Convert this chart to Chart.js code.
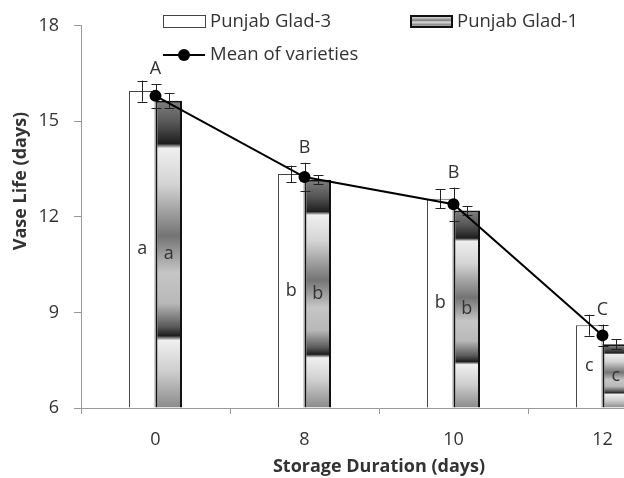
<!DOCTYPE html>
<html>
<head>
<meta charset="utf-8">
<script src="https://cdn.jsdelivr.net/npm/chart.js@4"></script>
<style>
html,body{margin:0;padding:0;background:#fff;overflow:hidden;}
#wrap{position:relative;width:700px;height:478px;}
</style>
</head>
<body>
<div id="wrap"><canvas id="c"></canvas></div>
<script>
// ---- data ----
const categories = ['0', '8', '10', '12'];
const glad3 = [15.95, 13.35, 12.57, 8.6];
const glad1 = [15.65, 13.17, 12.2, 8.0];
const meanVarieties = [15.8, 13.25, 12.4, 8.28];
const glad3Err = [0.33, 0.26, 0.30, 0.33];
const glad1Err = [0.23, 0.14, 0.14, 0.16];
const meanErr = [0.37, 0.45, 0.52, 0.34];
const meanLetters = ['A', 'B', 'B', 'C'];
const glad3Letters = ['a', 'b', 'b', 'c'];
const glad1Letters = ['a', 'b', 'b', 'c'];
const yTicks = [6, 9, 12, 15, 18];
const seriesNames = ['Punjab Glad-3', 'Punjab Glad-1', 'Mean of varieties'];
const axisTitles = {x: 'Storage Duration (days)', y: 'Vase Life (days)'};

// ---- styles ----
const FONT = '"Open Sans", "Liberation Sans", sans-serif';
const TXT = '#333';
const gradStops = [[0,'#808080'],[0.07,'#585858'],[0.14,'#1e1e1e'],[0.155,'#efefef'],[0.27,'#d4d4d4'],[0.44,'#747474'],[0.56,'#c6c6c6'],[0.66,'#b8b8b8'],[0.735,'#5a5a5a'],[0.765,'#1e1e1e'],[0.78,'#f0f0f0'],[0.88,'#cecece'],[1,'#8a8a8a']];

function barGradient(ctx) {
  if (ctx.type !== 'data') return '#999';
  const chart = ctx.chart;
  const ys = chart.scales.y;
  if (!ys || !chart.chartArea) return '#999';
  const top = ys.getPixelForValue(ctx.raw);
  const base = ys.getPixelForValue(yTicks[0]);
  const g = chart.ctx.createLinearGradient(0, top, 0, base);
  gradStops.forEach(s => g.addColorStop(s[0], s[1]));
  return g;
}

function drawErr(chart, di, errs) {
  const c = chart.ctx;
  const ys = chart.scales.y;
  const meta = chart.getDatasetMeta(di);
  const vals = chart.data.datasets[di].data;
  c.save();
  c.strokeStyle = '#222';
  c.lineWidth = 1;
  meta.data.forEach((el, i) => {
    const x = Math.round(el.x) + 0.5;
    const y1 = ys.getPixelForValue(vals[i] + errs[i]);
    const y2 = ys.getPixelForValue(vals[i] - errs[i]);
    c.beginPath();
    c.moveTo(x, y1); c.lineTo(x, y2);
    c.moveTo(x - 5, Math.round(y1) + 0.5); c.lineTo(x + 5, Math.round(y1) + 0.5);
    c.moveTo(x - 5, Math.round(y2) + 0.5); c.lineTo(x + 5, Math.round(y2) + 0.5);
    c.stroke();
  });
  c.restore();
}

const errPlugin = {
  id: 'errbars',
  beforeDatasetDraw(chart, args) {
    if (args.index === 2) drawErr(chart, 2, meanErr);
  },
  afterDatasetDraw(chart, args) {
    if (args.index === 0) drawErr(chart, 0, glad3Err);
    if (args.index === 1) drawErr(chart, 1, glad1Err);
  },
  afterDraw(chart) {
    const c = chart.ctx;
    const ys = chart.scales.y;
    c.save();
    c.fillStyle = TXT;
    c.font = '18px ' + FONT;
    c.textAlign = 'center';
    c.textBaseline = 'middle';
    const m0 = chart.getDatasetMeta(0), m1 = chart.getDatasetMeta(1), m2 = chart.getDatasetMeta(2);
    m0.data.forEach((el, i) => { c.fillText(glad3Letters[i], el.x, (el.y + el.base) / 2); });
    m1.data.forEach((el, i) => { c.fillText(glad1Letters[i], el.x, (el.y + el.base) / 2); });
    m2.data.forEach((el, i) => {
      const topY = ys.getPixelForValue(meanVarieties[i] + meanErr[i]);
      c.fillText(meanLetters[i], el.x, topY - 15);
    });
    // legend
    c.font = '18.5px ' + FONT;
    c.textAlign = 'left';
    c.fillStyle = '#fff';
    c.strokeStyle = '#444';
    c.lineWidth = 1;
    c.fillRect(163.5, 15.5, 42, 12);
    c.strokeRect(163.5, 15.5, 42, 12);
    const lg = c.createLinearGradient(0, 15, 0, 28);
    [[0,'#555'],[0.2,'#d0d0d0'],[0.4,'#777'],[0.55,'#ddd'],[0.75,'#888'],[0.9,'#ccc'],[1,'#555']].forEach(s => lg.addColorStop(s[0], s[1]));
    c.fillStyle = lg;
    c.fillRect(410, 15, 43, 13);
    c.strokeStyle = '#111';
    c.lineWidth = 2;
    c.strokeRect(411, 16, 41, 11);
    c.strokeStyle = '#000';
    c.lineWidth = 2;
    c.beginPath(); c.moveTo(163, 55); c.lineTo(205, 55); c.stroke();
    c.fillStyle = '#000';
    c.beginPath(); c.arc(184, 55, 6, 0, Math.PI * 2); c.fill();
    c.fillStyle = TXT;
    c.fillText(seriesNames[0], 210, 22);
    c.fillText(seriesNames[1], 457, 22);
    c.fillText(seriesNames[2], 210, 55);
    // axis titles
    c.font = 'bold 18px ' + FONT;
    c.textAlign = 'center';
    c.fillText(axisTitles.x, (chart.chartArea.left + chart.chartArea.right) / 2, 467);
    c.translate(21, 181);
    c.rotate(-Math.PI / 2);
    c.fillText(axisTitles.y, 0, 0);
    c.restore();
  }
};

new Chart(document.getElementById('c'), {
  type: 'bar',
  data: {
    labels: categories,
    datasets: [
      {label: seriesNames[0], data: glad3, base: yTicks[0], backgroundColor: '#fff', borderColor: '#444', borderWidth: 1, order: 1,
       barPercentage: 1, categoryPercentage: 0.356},
      {label: seriesNames[1], data: glad1, base: yTicks[0], backgroundColor: barGradient, borderColor: '#111', borderWidth: 2, order: 1,
       barPercentage: 1, categoryPercentage: 0.356},
      {type: 'line', label: seriesNames[2], data: meanVarieties, borderColor: '#000', borderWidth: 2,
       pointRadius: 6, pointBackgroundColor: '#000', pointBorderColor: '#000', pointBorderWidth: 0, order: 0, tension: 0}
    ]
  },
  options: {
    responsive: true,
    maintainAspectRatio: false,
    animation: false,
    layout: {padding: {top: 24, right: 23, left: 0, bottom: 0}},
    plugins: {legend: {display: false}, tooltip: {enabled: false}},
    scales: {
      x: {
        grid: {offset: true, drawOnChartArea: false, tickLength: 6, color: '#999'},
        border: {color: '#999'},
        ticks: {font: {family: FONT, size: 18}, color: TXT, padding: 15},
        afterFit(s) { s.height = 70; }
      },
      y: {
        min: 6, max: 18,
        afterBuildTicks(s) { s.ticks = yTicks.map(v => ({value: v})); },
        grid: {drawOnChartArea: false, tickLength: 7, color: '#999'},
        border: {color: '#999'},
        ticks: {font: {family: FONT, size: 18}, color: TXT, padding: 15},
        afterFit(s) { s.width = 81; }
      }
    }
  },
  plugins: [errPlugin]
});
</script>
</body>
</html>
